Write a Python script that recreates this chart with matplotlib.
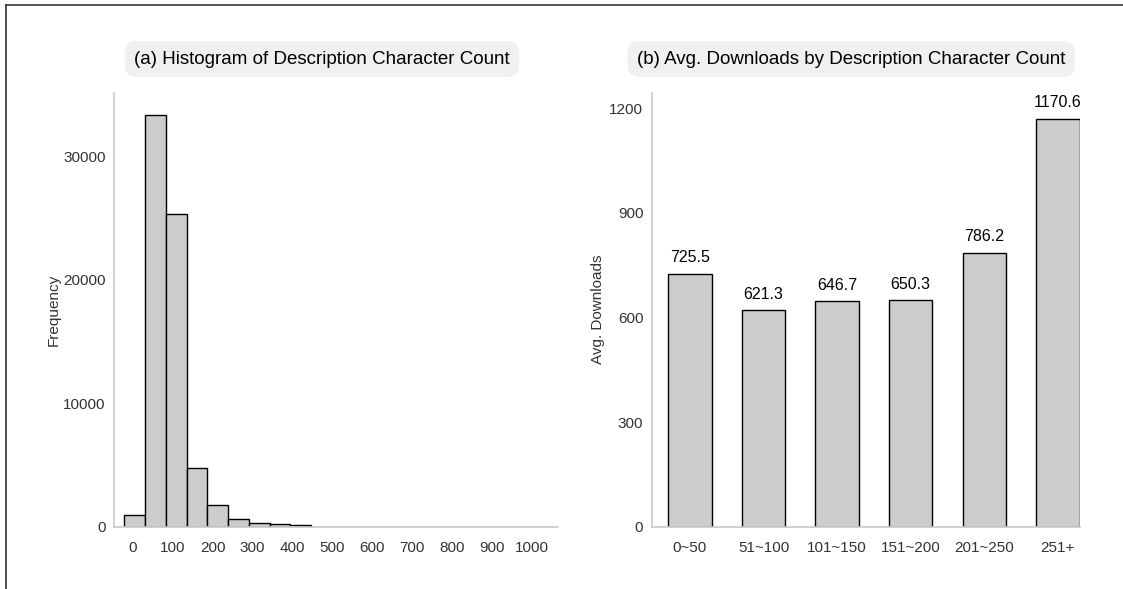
import numpy as np
import matplotlib
matplotlib.use('Agg')
import matplotlib.pyplot as plt
from matplotlib.lines import Line2D

plt.rcParams['font.family'] = ['Liberation Sans', 'Noto Sans CJK KR', 'DejaVu Sans']

# histogram of description length (bin edges and counts)
hist_edges = [-21, 31, 83, 135, 187, 239, 291, 343, 395, 447]
hist_counts = [950, 33400, 25300, 4750, 1750, 650, 300, 230, 150]
hist_ticks = [0, 100, 200, 300, 400, 500, 600, 700, 800, 900, 1000]

# average downloads per length group
groups = ['0~50', '51~100', '101~150', '151~200', '201~250', '251+']
avg_downloads = [725.5, 621.3, 646.7, 650.3, 786.2, 1170.6]

bar_fill = '#cccccc'
spine_col = '#c8c8c8'
text_col = '#333333'

fig = plt.figure(figsize=(11.23, 5.89), dpi=100)
ax1 = fig.add_axes([0.1015, 0.1058, 0.3954, 0.7368])
ax2 = fig.add_axes([0.5803, 0.1058, 0.3814, 0.7368])

# (a) histogram
edges = np.array(hist_edges)
ax1.bar(edges[:-1], hist_counts, width=np.diff(edges), align='edge',
        color=bar_fill, edgecolor='black', linewidth=1)
ax1.set_xlim(-47, 1066)
ax1.set_ylim(0, 35170)
ax1.set_xticks(hist_ticks)
ax1.set_yticks([0, 10000, 20000, 30000])
ax1.set_ylabel('Frequency', fontsize=11, color=text_col, labelpad=2)

# (b) average downloads
x = np.arange(len(groups))
ax2.bar(x, avg_downloads, width=0.59, color=bar_fill, edgecolor='black', linewidth=1)
for xi, v in zip(x, avg_downloads):
    ax2.annotate(f'{v:.1f}', (xi, v), xytext=(0, 6), textcoords='offset points',
                 ha='center', va='bottom', fontsize=11.5, color='black')
ax2.set_xlim(-0.52, 5.3)
ax2.set_ylim(0, 1245)
ax2.set_xticks(x)
ax2.set_xticklabels(groups)
ax2.set_yticks([0, 300, 600, 900, 1200])
ax2.set_ylabel('Avg. Downloads', fontsize=11, color=text_col, labelpad=3)

for ax in (ax1, ax2):
    for side in ('top', 'right'):
        ax.spines[side].set_visible(False)
    for side in ('left', 'bottom'):
        ax.spines[side].set_color(spine_col)
        ax.spines[side].set_linewidth(1.2)
    ax.tick_params(axis='x', length=0, pad=10, labelsize=11, labelcolor=text_col)
    ax.tick_params(axis='y', length=0, pad=6, labelsize=11, labelcolor=text_col)

# titles in rounded grey boxes
box = dict(boxstyle='round,pad=0.5,rounding_size=0.6', facecolor='#f0f0f0', edgecolor='none')
fig.text(322 / 1123, 1 - 59 / 589, '(a) Histogram of Description Character Count',
         ha='center', va='center', fontsize=13.5, color='black', bbox=box)
fig.text(851 / 1123, 1 - 59 / 589, '(b) Avg. Downloads by Description Character Count',
         ha='center', va='center', fontsize=13.5, color='black', bbox=box)

# partial frame around the figure (top and left edges)
fig.add_artist(Line2D([6 / 1123, 1], [1 - 5 / 589, 1 - 5 / 589], transform=fig.transFigure,
                      color='#333333', linewidth=1.2))
fig.add_artist(Line2D([6 / 1123, 6 / 1123], [0, 1 - 5 / 589], transform=fig.transFigure,
                      color='#333333', linewidth=1.2))

fig.savefig('out.png', dpi=100)
